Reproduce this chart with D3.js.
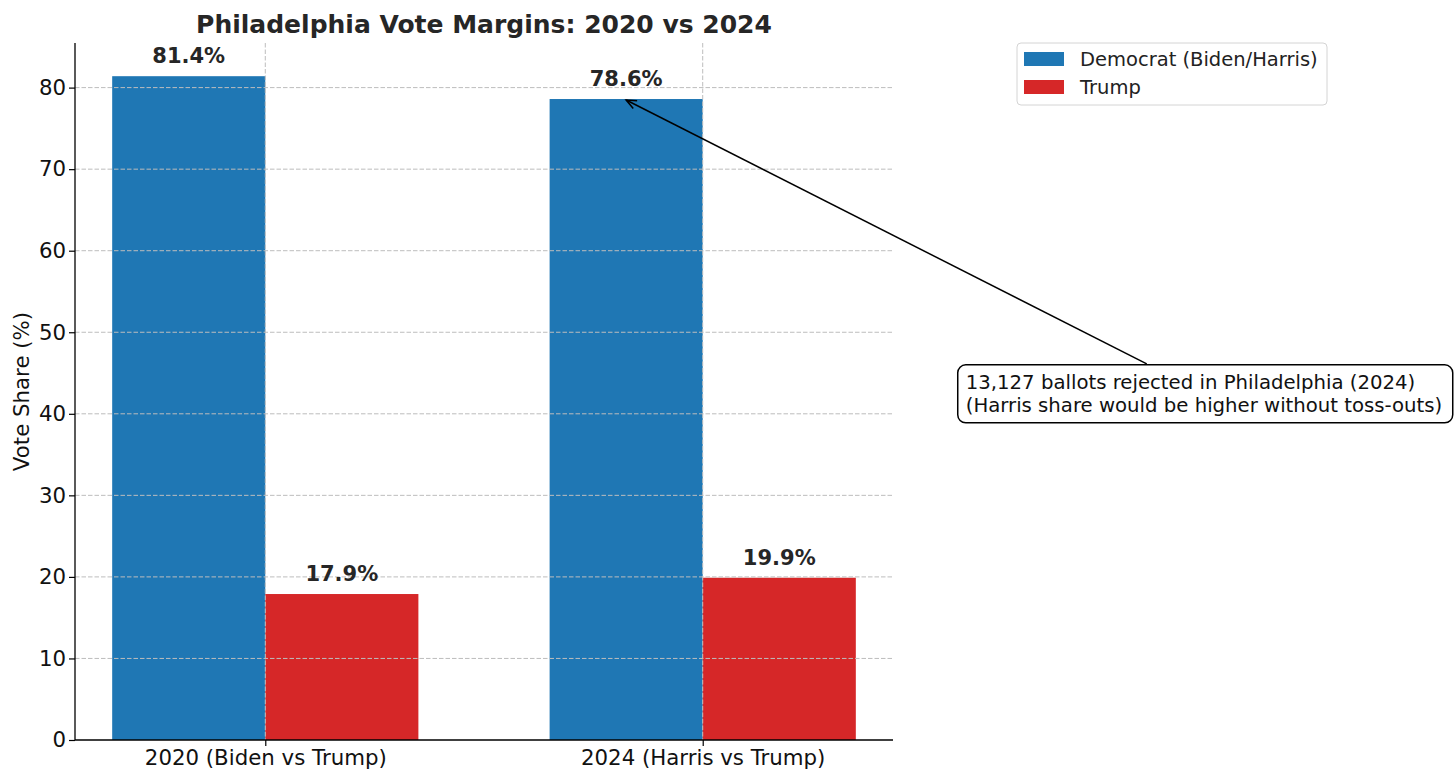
<!DOCTYPE html>
<html>
<head>
<meta charset="utf-8">
<script src="https://cdn.jsdelivr.net/npm/d3@7"></script>
<style>
  body { margin: 0; background: #fff; }
  text { font-family: "DejaVu Sans", sans-serif; }
</style>
</head>
<body>
<div id="container"></div>
<script>
// Data
var categories = ['2020 (Biden vs Trump)', '2024 (Harris vs Trump)'];
var demValues = [81.4, 78.6];
var trumpValues = [17.9, 19.9];
var seriesNames = ['Democrat (Biden/Harris)', 'Trump'];
var yTicks = [0, 10, 20, 30, 40, 50, 60, 70, 80];
var noteLines = ['13,127 ballots rejected in Philadelphia (2024)',
                 '(Harris share would be higher without toss-outs)'];

// Basic parameters
var WIDTH = 1456,
    HEIGHT = 781;
var plotLeft = 75, plotRight = 893, plotTop = 43, plotBottom = 740;
var barW = 0.35;
var blue = '#1f77b4', red = '#d62728';

var svg = d3.select('#container')
    .append('svg')
    .attr('width', WIDTH)
    .attr('height', HEIGHT);

// matplotlib style limits: 5% margins
var x = d3.scaleLinear()
    .domain([-barW - 0.085, 1 + barW + 0.085])
    .range([plotLeft, plotRight]);

var y = d3.scaleLinear()
    .domain([0, d3.max(demValues) * 1.05])
    .range([plotBottom, plotTop]);

var pxW = x(barW) - x(0);

// bars
var series = [
    { name: seriesNames[0], values: demValues, color: blue, off: -barW / 2 },
    { name: seriesNames[1], values: trumpValues, color: red, off: barW / 2 }
];

series.forEach(function(s) {
    svg.selectAll('.bar-' + s.color.slice(1))
        .data(s.values)
        .enter()
        .append('rect')
        .attr('x', function(d, i) { return x(i + s.off) - pxW / 2; })
        .attr('y', function(d) { return y(d); })
        .attr('width', pxW)
        .attr('height', function(d) { return y(0) - y(d); })
        .attr('fill', s.color);
});

// grid, drawn over the bars
var grid = svg.append('g')
    .attr('stroke', '#bdbdbd')
    .attr('stroke-width', 1)
    .attr('stroke-dasharray', '4.5,2');

grid.selectAll('.hgrid')
    .data(yTicks.slice(1))
    .enter()
    .append('line')
    .attr('x1', plotLeft).attr('x2', plotRight)
    .attr('y1', function(d) { return y(d); })
    .attr('y2', function(d) { return y(d); });

grid.selectAll('.vgrid')
    .data(categories)
    .enter()
    .append('line')
    .attr('x1', function(d, i) { return x(i); })
    .attr('x2', function(d, i) { return x(i); })
    .attr('y1', plotTop).attr('y2', plotBottom);

// axes
var yAxis = d3.axisLeft(y).tickValues(yTicks).tickSize(6).tickPadding(3);
var gy = svg.append('g')
    .attr('transform', 'translate(' + plotLeft + ',0)')
    .call(yAxis);
gy.select('.domain').attr('stroke', '#000').attr('stroke-width', 1.3)
    .attr('d', 'M0,' + plotTop + 'V' + plotBottom);
gy.selectAll('.tick line').attr('stroke', '#000').attr('stroke-width', 1.2);
gy.selectAll('.tick text')
    .attr('font-size', 21.3)
    .attr('font-family', 'DejaVu Sans')
    .attr('fill', '#111');

var xAxis = d3.axisBottom(x).tickValues([0, 1])
    .tickFormat(function(d) { return categories[d]; })
    .tickSize(6).tickPadding(4);
var gx = svg.append('g')
    .attr('transform', 'translate(0,' + plotBottom + ')')
    .call(xAxis);
gx.select('.domain').attr('stroke', '#000').attr('stroke-width', 1.3)
    .attr('d', 'M' + plotLeft + ',0H' + plotRight);
gx.selectAll('.tick line').attr('stroke', '#000').attr('stroke-width', 1.2);
gx.selectAll('.tick text')
    .attr('font-size', 21.3)
    .attr('font-family', 'DejaVu Sans')
    .attr('fill', '#111');

// y label
svg.append('text')
    .attr('transform', 'translate(29,' + ((plotTop + plotBottom) / 2) + ') rotate(-90)')
    .attr('text-anchor', 'middle')
    .attr('font-size', 21.3)
    .attr('fill', '#111')
    .text('Vote Share (%)');

// title
svg.append('text')
    .attr('x', (plotLeft + plotRight) / 2)
    .attr('y', 33)
    .attr('text-anchor', 'middle')
    .attr('font-size', 25)
    .attr('font-weight', 'bold')
    .attr('fill', '#262626')
    .text('Philadelphia Vote Margins: 2020 vs 2024');

// value labels
series.forEach(function(s) {
    svg.selectAll('.lab-' + s.color.slice(1))
        .data(s.values)
        .enter()
        .append('text')
        .attr('x', function(d, i) { return x(i + s.off); })
        .attr('y', function(d) { return y(d + 1) - 5; })
        .attr('text-anchor', 'middle')
        .attr('font-size', 21)
        .attr('font-weight', 'bold')
        .attr('fill', '#262626')
        .text(function(d) { return d.toFixed(1) + '%'; });
});

// legend
var lg = svg.append('g').attr('transform', 'translate(1017,43)');
lg.append('rect')
    .attr('width', 310).attr('height', 62)
    .attr('rx', 4)
    .attr('fill', '#fff')
    .attr('stroke', '#d4d4d4')
    .attr('stroke-width', 1);
series.forEach(function(s, i) {
    lg.append('rect')
        .attr('x', 7).attr('y', 9 + i * 28)
        .attr('width', 40).attr('height', 14)
        .attr('fill', s.color);
    lg.append('text')
        .attr('x', 63).attr('y', 23 + i * 28)
        .attr('font-size', 19.5)
        .attr('fill', '#222')
        .text(s.name);
});

// annotation
var tipX = x(1 - barW / 2), tipY = y(demValues[1]) + 1;
var boxX = x(1.583), boxY = y(46.0);
var boxW = 495, boxH = 58;
var startX = boxX + 189, startY = boxY - 1;

svg.append('line')
    .attr('x1', startX).attr('y1', startY)
    .attr('x2', tipX).attr('y2', tipY)
    .attr('stroke', '#000').attr('stroke-width', 1.5);

var ang = Math.atan2(startY - tipY, startX - tipX);
var hl = 11, ha = 0.4;
svg.append('path')
    .attr('d', 'M' + (tipX + hl * Math.cos(ang - ha)) + ',' + (tipY + hl * Math.sin(ang - ha)) +
        'L' + tipX + ',' + tipY +
        'L' + (tipX + hl * Math.cos(ang + ha)) + ',' + (tipY + hl * Math.sin(ang + ha)))
    .attr('fill', 'none')
    .attr('stroke', '#000').attr('stroke-width', 1.5);

svg.append('rect')
    .attr('x', boxX).attr('y', boxY)
    .attr('width', boxW).attr('height', boxH)
    .attr('rx', 8)
    .attr('fill', '#fff')
    .attr('stroke', '#000')
    .attr('stroke-width', 1.5);

svg.selectAll('.note')
    .data(noteLines)
    .enter()
    .append('text')
    .attr('x', boxX + 8)
    .attr('y', function(d, i) { return boxY + 24 + i * 23; })
    .attr('font-size', 19.7)
    .attr('fill', '#111')
    .text(function(d) { return d; });
</script>
</body>
</html>
